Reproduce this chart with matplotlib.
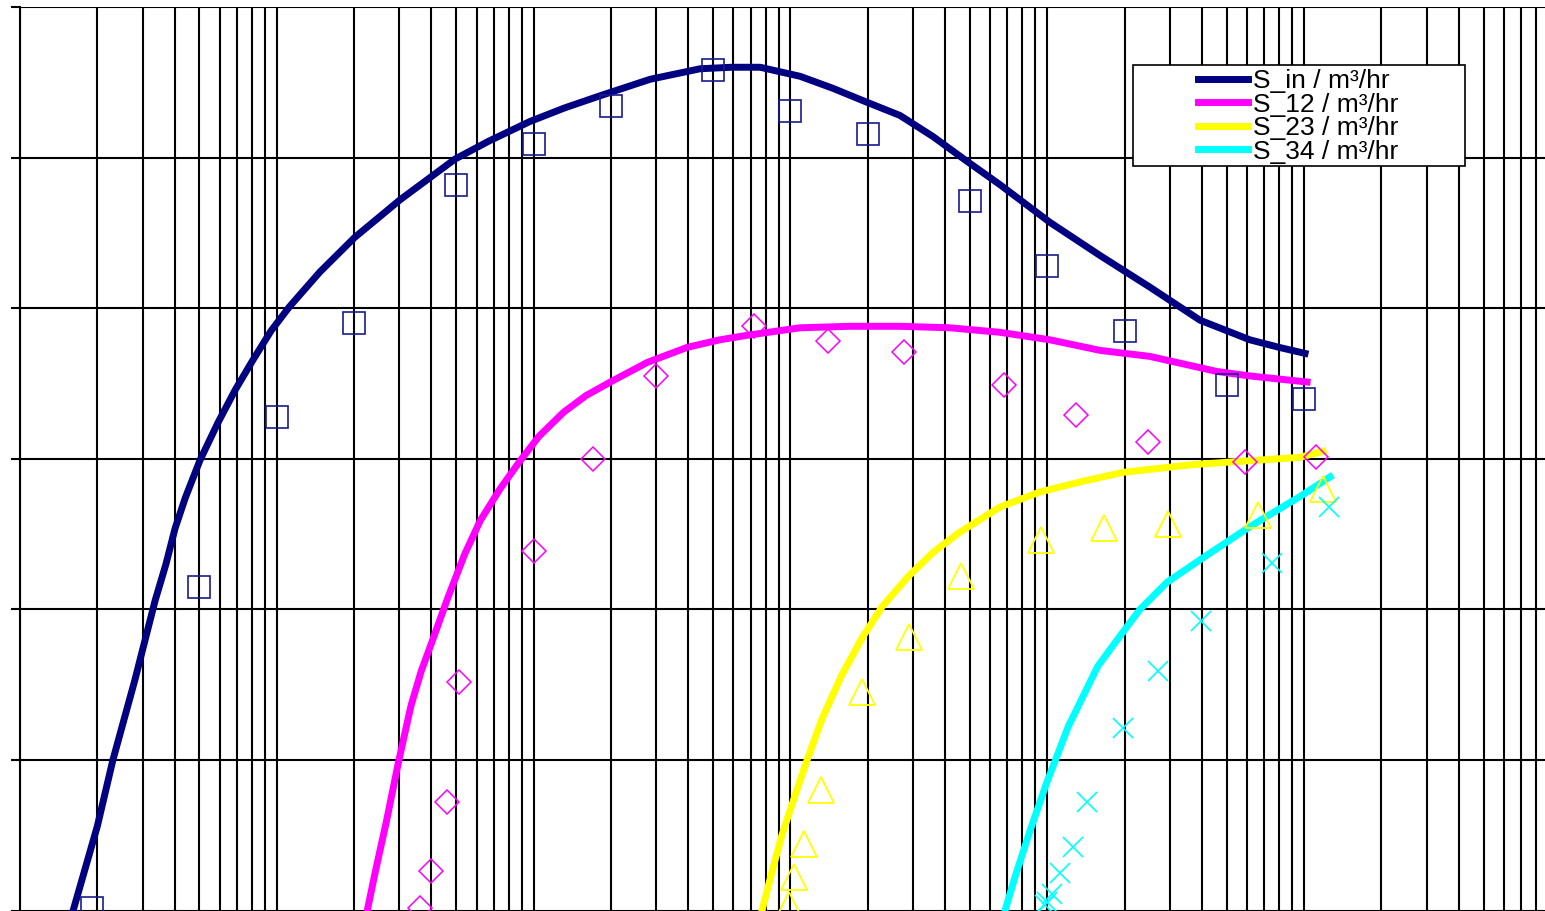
import matplotlib
matplotlib.use('Agg')
import matplotlib.pyplot as plt
from matplotlib.patches import Rectangle
from matplotlib.ticker import LogLocator, MultipleLocator, NullFormatter

# Kurven (Modell)
s_in_x = [1.61, 2.0, 2.3, 2.8, 3.36, 3.7, 4.02, 4.4, 5.02, 5.9, 6.9, 8.1, 9.5, 11.2, 14.7, 20.1, 30.2,
          49.4, 67, 96.8, 132, 181, 284, 445, 590, 762, 1090, 1465, 1970, 2670, 3590, 4830, 6550,
          10250, 16060, 25100, 39400, 61600, 80000, 100900]
s_in_y = [0.0, 0.56, 1.0, 1.53, 2.06, 2.30, 2.54, 2.74, 2.99, 3.24, 3.46, 3.66, 3.85, 4.01, 4.24, 4.47, 4.72,
          4.99, 5.11, 5.24, 5.33, 5.41, 5.52, 5.59, 5.60, 5.60, 5.54, 5.46, 5.37, 5.28, 5.14, 4.98, 4.82,
          4.57, 4.35, 4.14, 3.92, 3.79, 3.74, 3.70]

s12_x = [22.5, 24.2, 26.7, 29.8, 33.3, 36.5, 40.1, 46.4, 54, 62, 74, 88, 105, 131, 160, 199, 277, 396,
         530, 678, 1090, 1700, 2670, 4180, 6550, 10250, 16060, 25100, 45800, 61600, 102800]
s12_y = [0.0, 0.26, 0.59, 0.99, 1.36, 1.59, 1.78, 2.08, 2.37, 2.59, 2.80, 2.98, 3.15, 3.31, 3.42, 3.51,
         3.64, 3.74, 3.79, 3.82, 3.87, 3.88, 3.88, 3.87, 3.84, 3.79, 3.72, 3.68, 3.58, 3.55, 3.51]

s23_x = [775, 845, 926, 1040, 1161, 1325, 1580, 1900, 2280, 2880, 3600, 4540, 6550, 9370, 13700,
         19730, 36000, 52900, 96500, 118600]
s23_y = [0.0, 0.25, 0.50, 0.76, 1.00, 1.27, 1.56, 1.81, 2.02, 2.22, 2.38, 2.51, 2.68, 2.78, 2.85,
         2.91, 2.96, 2.98, 3.01, 3.05]

s34_x = [6850, 7480, 8570, 9910, 12060, 15700, 17500, 19730, 22970, 29270, 39400, 61600, 96500, 126300]
s34_y = [0.0, 0.22, 0.53, 0.84, 1.22, 1.62, 1.73, 1.85, 2.0, 2.18, 2.33, 2.55, 2.75, 2.88]

# Messpunkte
m_in_x = [1.9, 5, 10, 20, 50, 100, 200, 500, 1000, 2000, 5000, 10000, 20000, 50000, 100000]
m_in_y = [0.02, 2.15, 3.28, 3.90, 4.82, 5.09, 5.34, 5.58, 5.31, 5.16, 4.71, 4.28, 3.85, 3.49, 3.40]

m12_x = [36, 40, 46, 51, 100, 170, 300, 720, 1400, 2770, 6800, 12900, 24700, 58900, 111000]
m12_y = [0.02, 0.26, 0.72, 1.52, 2.39, 3.00, 3.55, 3.88, 3.78, 3.71, 3.49, 3.29, 3.11, 2.98, 3.01]

m23_x = [989, 1033, 1130, 1315, 1900, 2900, 4610, 9460, 16630, 29500, 66100, 118600]
m23_y = [0.04, 0.22, 0.44, 0.80, 1.45, 1.82, 2.22, 2.46, 2.54, 2.57, 2.63, 2.80]

m34_x = [9770, 10000, 10470, 11220, 12590, 14290, 19720, 26900, 39800, 75000, 125000]
m34_y = [0.04, 0.06, 0.11, 0.25, 0.42, 0.72, 1.21, 1.59, 1.92, 2.31, 2.68]

labels = ['S_in / m³/hr', 'S_12 / m³/hr', 'S_23 / m³/hr', 'S_34 / m³/hr']
farben = ['#000080', '#ff00ff', '#ffff00', '#00ffff']

plt.rcParams['font.family'] = ['Liberation Sans', 'DejaVu Sans']

fig = plt.figure(figsize=(15.45, 9.11), dpi=100)
ax = fig.add_axes([20 / 1545, -0.1649, 0.9973, 1.1572])

kurven = [(s_in_x, s_in_y), (s12_x, s12_y), (s23_x, s23_y), (s34_x, s34_y)]
for (kx, ky), lab, c in zip(kurven, labels, farben):
    ax.plot(kx, ky, color=c, lw=5, label=lab, zorder=3, solid_joinstyle='round')

ax.plot(m_in_x, m_in_y, 's', ms=16, mfc='none', mec='#1a1a8c', mew=1.2, zorder=4)
ax.plot(m12_x, m12_y, 'D', ms=12.2, mfc='none', mec=farben[1], mew=1.1, zorder=4)
ax.plot(m23_x, m23_y, '^', ms=19, mfc='none', mec=farben[2], mew=1.3, zorder=4)
ax.plot(m34_x, m34_y, 'x', ms=15, mec=farben[3], mew=1.2, zorder=4)

ax.set_xscale('log')
ax.set_xlim(1, 1e6)
ax.set_ylim(-1, 6)
ax.xaxis.set_major_locator(LogLocator(base=10, numticks=20))
ax.xaxis.set_minor_locator(LogLocator(base=10, subs=range(2, 10), numticks=100))
ax.xaxis.set_minor_formatter(NullFormatter())
ax.yaxis.set_major_locator(MultipleLocator(1))
ax.set_xticklabels([])
ax.set_yticklabels([])
ax.grid(True, which='both', axis='x', color='black', lw=1.5)
ax.grid(True, which='major', axis='y', color='black', lw=1.5)
ax.set_axisbelow(True)
ax.tick_params(axis='x', which='both', length=0)
ax.tick_params(axis='y', direction='out', length=6.5, width=1.5, color='black')
ax.spines['top'].set_visible(False)
ax.spines['left'].set_linewidth(1.5)

# Legendenkasten
ax.add_patch(Rectangle((0.7223, 0.8492), 0.2155, 0.0958, transform=ax.transAxes,
                       facecolor='white', edgecolor='black', lw=1.2, zorder=5, clip_on=False))
leg = ax.legend(loc='upper left', bbox_to_anchor=(0.7645, 0.941), frameon=False,
                fontsize=19, handlelength=1.9, handletextpad=0.2, labelspacing=-0.02,
                borderpad=0, borderaxespad=0)
leg.set_zorder(6)

fig.savefig('out.png', dpi=100)
